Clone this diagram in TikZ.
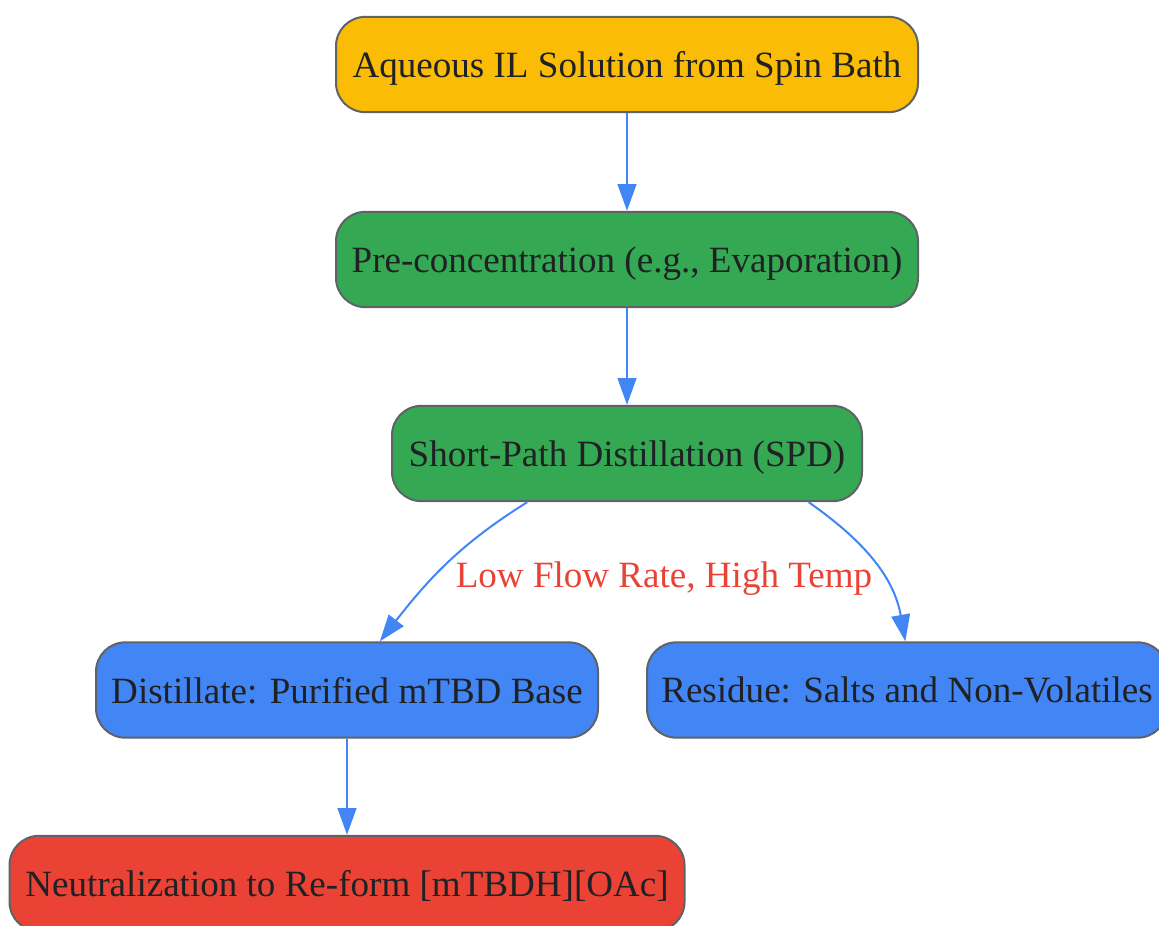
\documentclass[tikz,border=0pt]{standalone}
\usepackage{fontspec}
\setmainfont{Liberation Serif}
\usetikzlibrary{arrows.meta}
\definecolor{gyellow}{HTML}{FBBC05}
\definecolor{ggreen}{HTML}{34A853}
\definecolor{gblue}{HTML}{4285F4}
\definecolor{gred}{HTML}{EA4335}
\definecolor{gtext}{HTML}{202124}
\definecolor{gline}{HTML}{5F6368}

\begin{document}
\begin{tikzpicture}[x=0.75pt, y=-0.75pt,
  stage/.style={draw=gline, line width=1.5pt, rounded corners=22pt,
    minimum height=71.5pt, inner sep=0pt, text=gtext, text depth=0pt,
    font=\fontsize{27.8pt}{33pt}\selectfont},
  flow/.style={draw=gblue, line width=1.5pt, -{Triangle[length=20pt, width=14pt]}},
  flowlabel/.style={text=gred, text depth=0pt, font=\fontsize{27.8pt}{33pt}\selectfont}]
\useasboundingbox (0,0) rectangle (1159,925);
\clip (0,0) rectangle (1159,925);
\node [stage, fill=gyellow, minimum width=436.5pt] (aqueous) at (627,64.5) {Aqueous IL Solution from Spin Bath};
\node [stage, fill=ggreen, minimum width=436.5pt] (preconc) at (627,259.5) {Pre-concentration (e.g., Evaporation)};
\node [stage, fill=ggreen, minimum width=352.5pt] (spd) at (627,453.5) {Short-Path Distillation (SPD)};
\node [stage, fill=gblue, minimum width=376.5pt] (distillate) at (347,690) {Distillate: Purified mTBD Base};
\node [stage, fill=gblue, minimum width=390pt] (residue) at (907,690) {Residue: Salts and Non-Volatiles};
\node [stage, fill=gred, minimum width=506.25pt] (neutral) at (347,883.5) {Neutralization to Re-form [mTBDH][OAc]};
\draw [flow] (aqueous) -- (preconc);
\draw [flow] (preconc) -- (spd);
\draw [flow] (spd.206) to [out=212, in=52] (distillate.56);
\draw [flow] (spd.-15) to [out=-35, in=100] (residue.92);
\node [flowlabel] (condlabel) at (664,575) {Low Flow Rate, High Temp};
\draw [flow] (distillate) -- (neutral);
\end{tikzpicture}
\end{document}
